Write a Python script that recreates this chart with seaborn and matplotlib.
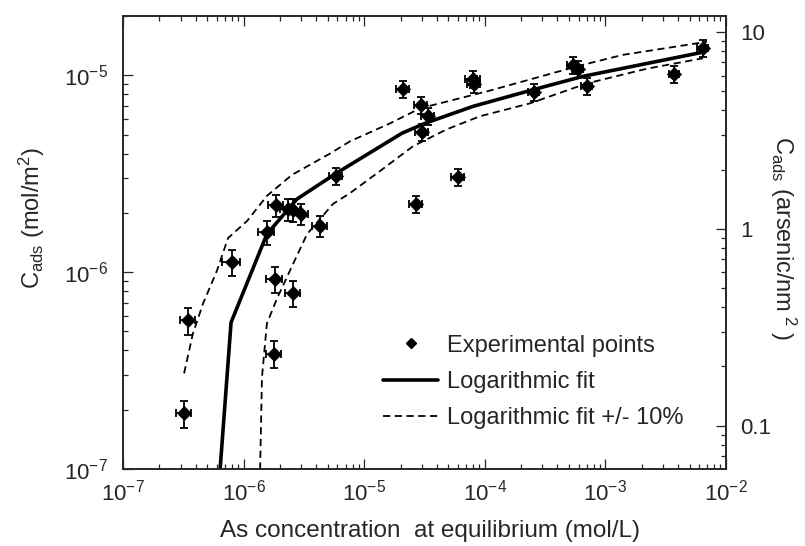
import numpy as np
import pandas as pd
import seaborn as sns
import matplotlib
matplotlib.use('Agg')
import matplotlib.pyplot as plt
from matplotlib import ticker
from matplotlib.lines import Line2D

# experimental points (mol/L, mol/m2)
conc = [3.21e-7, 3.46e-7, 8.01e-7, 1.56e-6, 1.79e-6, 1.82e-6, 1.86e-6, 2.34e-6, 2.57e-6, 2.57e-6,
        2.99e-6, 4.30e-6, 5.83e-6, 2.10e-5, 2.69e-5, 2.96e-5, 3.01e-5, 3.38e-5, 6.00e-5, 7.98e-5,
        8.13e-5, 2.56e-4, 5.38e-4, 5.93e-4, 7.03e-4, 3.71e-3, 6.44e-3]
cads = [1.92e-7, 5.68e-7, 1.13e-6, 1.60e-6, 3.86e-7, 9.26e-7, 2.19e-6, 2.09e-6, 7.87e-7, 2.07e-6,
        1.98e-6, 1.72e-6, 3.08e-6, 8.47e-6, 2.22e-6, 7.03e-6, 5.14e-6, 6.19e-6, 3.04e-6, 9.52e-6,
        8.98e-6, 8.18e-6, 1.13e-5, 1.08e-5, 8.78e-6, 1.01e-5, 1.37e-5]
# relative error bars
yerr_rel = [0.16, 0.16, 0.15, 0.14, 0.16, 0.15, 0.13, 0.13, 0.15, 0.13,
            0.12, 0.12, 0.10, 0.10, 0.10, 0.10, 0.10, 0.10, 0.10, 0.10,
            0.10, 0.10, 0.10, 0.10, 0.10, 0.10, 0.10]
xerr_rel = [0.15, 0.15, 0.17, 0.15, 0.15, 0.15, 0.15, 0.15, 0.15, 0.15,
            0.14, 0.14, 0.12, 0.12, 0.12, 0.12, 0.12, 0.12, 0.12, 0.14,
            0.12, 0.11, 0.11, 0.11, 0.11, 0.10, 0.10]

# logarithmic fit and +/- 10 % curves
fit_x = [5.87e-7, 7.87e-7, 1.56e-6, 2.77e-6, 5.73e-6, 2.06e-5, 3.19e-5, 7.98e-5, 2.56e-4, 6.5e-4, 6.44e-3]
fit_y = [5.0e-8, 5.55e-7, 1.56e-6, 2.35e-6, 3.15e-6, 5.08e-6, 5.70e-6, 6.95e-6, 8.47e-6, 9.87e-6, 1.31e-5]
up_x = [3.21e-7, 3.80e-7, 4.61e-7, 6.02e-7, 7.43e-7, 1.07e-6, 1.56e-6, 2.52e-6, 5.2e-6, 7.63e-6,
        1.64e-5, 2.90e-5, 1.04e-4, 2.37e-4, 6.15e-4, 1.40e-3, 6.95e-3]
up_y = [3.06e-7, 4.88e-7, 6.92e-7, 1.02e-6, 1.49e-6, 1.82e-6, 2.44e-6, 3.12e-6, 4.0e-6, 4.62e-6,
        5.70e-6, 6.79e-6, 8.28e-6, 9.52e-6, 1.12e-5, 1.27e-5, 1.48e-5]
lo_x = [1.34e-6, 1.42e-6, 1.56e-6, 1.89e-6, 2.57e-6, 3.36e-6, 5.51e-6, 7.63e-6, 1.35e-5, 2.54e-5,
        4.86e-5, 9.12e-5, 2.37e-4, 7.03e-4, 2.21e-3, 6.44e-3]
lo_y = [5.0e-8, 2.92e-7, 5.48e-7, 7.33e-7, 1.10e-6, 1.56e-6, 2.22e-6, 2.52e-6, 3.26e-6, 4.36e-6,
        5.32e-6, 6.19e-6, 7.2e-6, 9.09e-6, 1.08e-5, 1.22e-5]

NM2 = 6.022e5  # mol/m2 -> arsenic/nm2

sns.set_style('ticks')
plt.rcParams['font.family'] = ['Liberation Sans', 'DejaVu Sans']
plt.rcParams['mathtext.fontset'] = 'custom'
plt.rcParams['mathtext.rm'] = 'Liberation Sans'
plt.rcParams['mathtext.it'] = 'Liberation Sans:italic'
plt.rcParams['mathtext.bf'] = 'Liberation Sans:bold'
plt.rcParams['axes.unicode_minus'] = False
plt.rcParams['xtick.direction'] = 'in'
plt.rcParams['ytick.direction'] = 'in'

pts = pd.DataFrame({'conc': conc, 'cads': cads})
pts['xerr'] = pts['conc'] * np.array(xerr_rel)
pts['yerr'] = pts['cads'] * np.array(yerr_rel)
fit = pd.DataFrame({'x': fit_x, 'y': fit_y})
up = pd.DataFrame({'x': up_x, 'y': up_y})
lo = pd.DataFrame({'x': lo_x, 'y': lo_y})

fig = plt.figure(figsize=(8.05, 5.46), dpi=100)
ax = fig.add_axes([123 / 805, 77 / 546, 603 / 805, 453 / 546])
ax.set_xscale('log')
ax.set_yscale('log')

dash = (0, (4, 2.5))
sns.lineplot(data=fit, x='x', y='y', ax=ax, color='black', lw=2.6, estimator=None, sort=False)
sns.lineplot(data=up, x='x', y='y', ax=ax, color='black', lw=1.3, linestyle=dash, estimator=None, sort=False)
sns.lineplot(data=lo, x='x', y='y', ax=ax, color='black', lw=1.3, linestyle=dash, estimator=None, sort=False)
ax.errorbar(pts['conc'], pts['cads'], xerr=pts['xerr'], yerr=pts['yerr'], fmt='none',
            ecolor='black', elinewidth=1.3, capsize=3, capthick=1.3, zorder=3)
sns.scatterplot(data=pts, x='conc', y='cads', marker='D', s=52, color='black',
                edgecolor='black', linewidth=0.5, ax=ax, zorder=4)

ax.set_xlim(1e-7, 1e-2)
ax.set_ylim(1e-7, 2e-5)
ax.xaxis.set_major_locator(ticker.LogLocator(base=10, numticks=10))
ax.xaxis.set_minor_locator(ticker.LogLocator(base=10, subs=np.arange(2, 10), numticks=50))
ax.yaxis.set_minor_locator(ticker.LogLocator(base=10, subs=np.arange(2, 10), numticks=50))
ax.tick_params(which='both', top=True, right=False, width=0.9, labelsize=16)
ax.tick_params(which='major', length=7)
ax.tick_params(which='minor', length=3.6)
ax.tick_params(axis='x', pad=7.5)
ax.tick_params(axis='y', pad=11)
ax.set_xlabel('As concentration  at equilibrium (mol/L)', fontsize=17.5)
ax.xaxis.set_label_coords(0.509, -0.112)
ax.set_ylabel(r'C$_{\rm ads}$ (mol/m$^{2}$)', fontsize=17, labelpad=12)
ax.yaxis.label.set_y((469 - 218) / 453)
for s in ax.spines.values():
    s.set_linewidth(1.2)

ax2 = ax.twinx()
ax2.set_yscale('log')
ax2.set_ylim(1e-7 * NM2, 2e-5 * NM2)
ax2.yaxis.set_minor_locator(ticker.LogLocator(base=10, subs=np.arange(2, 10), numticks=50))
ax2.yaxis.set_major_formatter(ticker.FuncFormatter(lambda v, p: f'{v:g}'))
ax2.tick_params(which='both', width=0.9, labelsize=16, pad=10)
ax2.tick_params(which='major', length=7)
ax2.tick_params(which='minor', length=3.6)
ax2.set_ylabel(r'C$_{\rm ads}$ (arsenic/nm$^{\ 2}$ )', fontsize=17, rotation=270, labelpad=20)
ax2.yaxis.label.set_y((469 - 238) / 453)
for s in ax2.spines.values():
    s.set_linewidth(1.2)

handles = [Line2D([], [], marker='D', color='black', ls='none', markersize=5),
           Line2D([], [], color='black', lw=2.6),
           Line2D([], [], color='black', lw=1.3, ls=dash)]
labels = ['Experimental points', 'Logarithmic fit', 'Logarithmic fit +/- 10%']
fig.legend(handles, labels, loc='center left', bbox_to_anchor=(383 / 805, 1 - 382 / 546),
           bbox_transform=fig.transFigure, frameon=False, fontsize=17, handlelength=2.33,
           handletextpad=0.38, labelspacing=0.61, borderpad=0, borderaxespad=0)

plt.savefig('out.png', dpi=100)
